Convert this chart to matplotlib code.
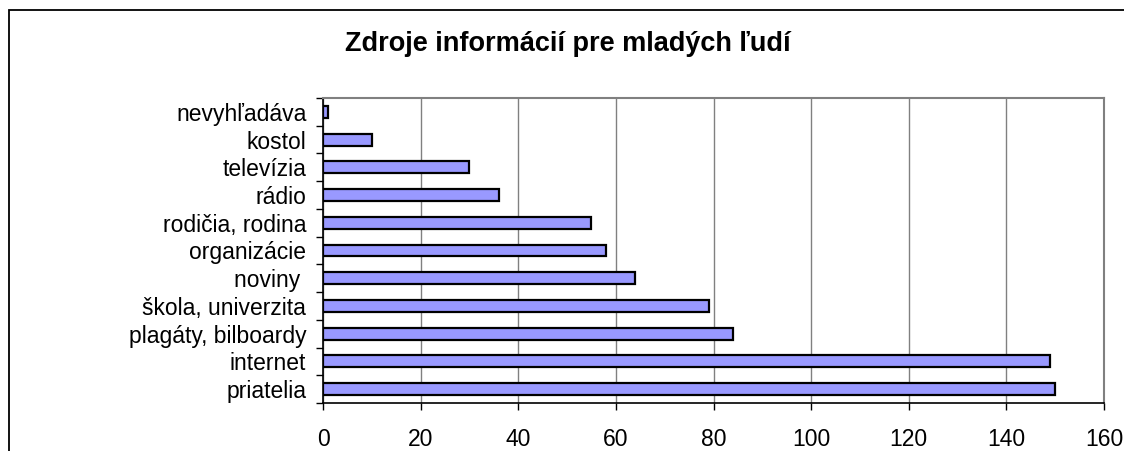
import matplotlib
matplotlib.use('Agg')
import matplotlib.pyplot as plt
from matplotlib.patches import Rectangle
from matplotlib.ticker import FixedLocator

plt.rcParams['font.family'] = ['Liberation Sans', 'DejaVu Sans']

# data, bottom to top as drawn
categories = ['priatelia', 'internet', 'plagáty, bilboardy', 'škola, univerzita',
              'noviny ', 'organizácie', 'rodičia, rodina', 'rádio', 'televízia',
              'kostol', 'nevyhľadáva']
counts = [150, 149, 84, 79, 64, 58, 55, 36, 30, 10, 1]
x_ticks = [0, 20, 40, 60, 80, 100, 120, 140, 160]

fig = plt.figure(figsize=(11.24, 4.51), dpi=100)

# outer chart frame (cut off at right and bottom as in the original)
fig.patches.append(Rectangle((9 / 1124, -0.1), 1.2, 1 - 10 / 451 + 0.1,
                             transform=fig.transFigure, fill=False,
                             edgecolor='black', linewidth=1.3))

ax = fig.add_axes([323 / 1124, 1 - 403 / 451, (1104 - 323) / 1124, (403 - 98) / 451])

pos = list(range(len(categories)))
ax.barh(pos, counts, height=0.43, color='#9999FF', edgecolor='black',
        linewidth=1.6, zorder=3)

ax.set_xlim(0, 160)
ax.set_ylim(-0.5, len(categories) - 0.5)

ax.xaxis.set_major_locator(FixedLocator(x_ticks))
ax.set_xticklabels([str(t) for t in x_ticks])
ax.xaxis.grid(True, color='#808080', linewidth=1.0, zorder=0)

ax.set_yticks(pos)
ax.set_yticklabels(categories)
ax.yaxis.set_minor_locator(FixedLocator([p - 0.5 for p in pos] + [len(pos) - 0.5]))
ax.tick_params(axis='y', which='major', length=0, pad=12, labelsize=16.5)
ax.tick_params(axis='y', which='minor', length=5, width=1, color='black')
ax.tick_params(axis='x', which='major', length=5, width=1, pad=13, labelsize=16.5)

for side in ['top', 'right']:
    ax.spines[side].set_color('#808080')
    ax.spines[side].set_linewidth(1.5)
ax.spines['left'].set_color('black')
ax.spines['bottom'].set_color('black')
ax.spines['left'].set_linewidth(1.2)
ax.spines['bottom'].set_linewidth(1.2)

fig.text(568 / 1124, 1 - 44 / 451, 'Zdroje informácií pre mladých ľudí',
         ha='center', va='center', fontsize=19.5, fontweight='bold')

fig.savefig('out.png', dpi=100)
